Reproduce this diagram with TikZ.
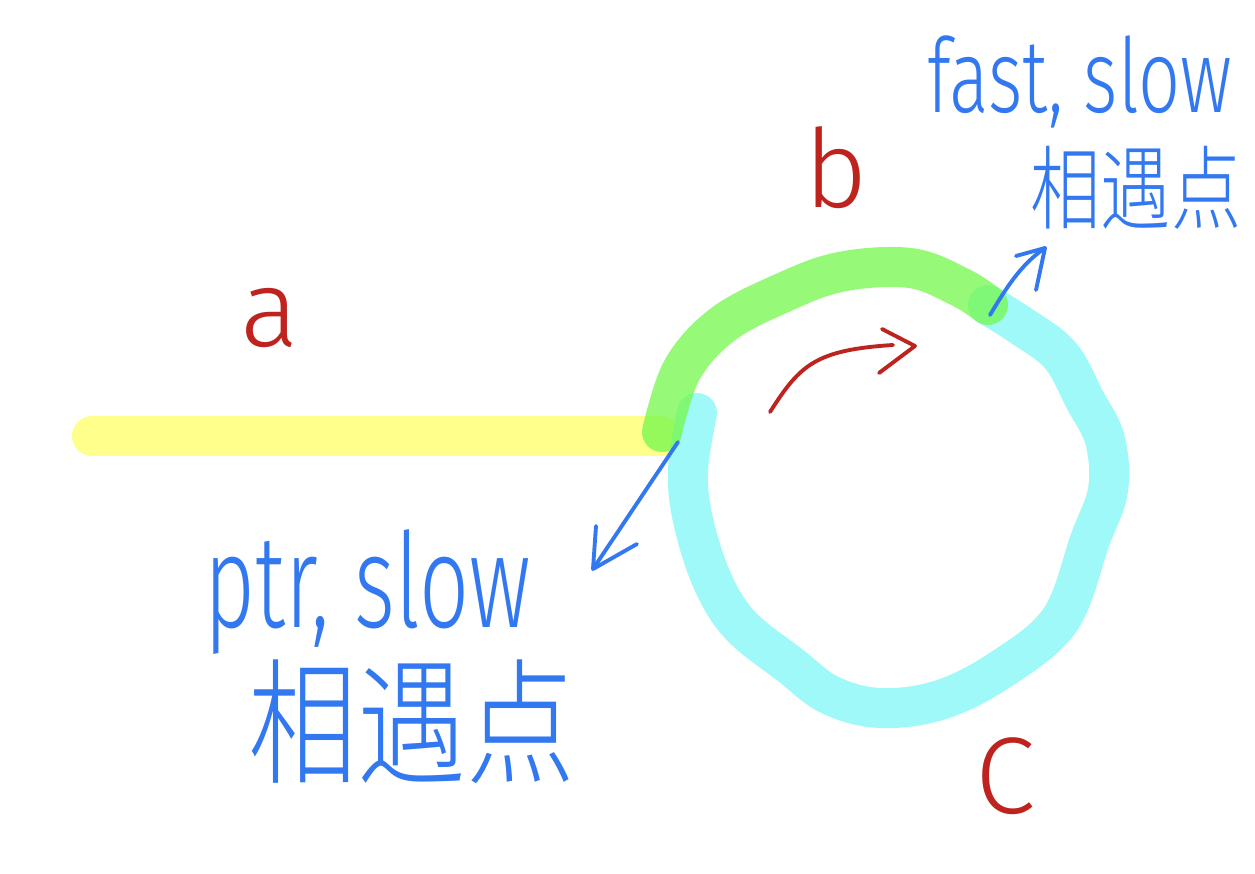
\documentclass[tikz,border=0pt]{standalone}
\usepackage{fontspec}
\setmainfont{Fira Sans Light}
\IfFontExistsTF{Noto Sans CJK SC Light}{\newfontfamily\cjk{Noto Sans CJK SC Light}}{\newfontfamily\cjk{Noto Sans CJK SC}}
\definecolor{hlyellow}{RGB}{255,255,102}
\definecolor{hlgreen}{RGB}{115,248,75}
\definecolor{hlcyan}{RGB}{128,248,248}
\definecolor{penred}{RGB}{190,35,30}
\definecolor{penblue}{RGB}{50,120,240}
\begin{document}
\begin{tikzpicture}[x=0.02cm,y=-0.02cm,
  marker/.style={line width=0.8cm,line cap=round,line join=round,opacity=0.75},
  redpen/.style={draw=penred,line width=2.2pt,line cap=round,line join=round},
  bluepen/.style={draw=penblue,line width=2.2pt,line cap=round,line join=round},
  redlbl/.style={text=penred,font=\fontsize{62}{62}\selectfont,inner sep=0pt},
  bluelbl/.style={text=penblue,inner sep=0pt}]
\useasboundingbox (0,0) rectangle (1255,874);
\fill[white] (0,0) rectangle (1255,874);
% segments
\draw[marker,draw=hlyellow] (92,436) -- (662,436);
\draw[marker,draw=hlcyan] plot[smooth,tension=0.6] coordinates {(697,413) (688,470) (693,520) (712,580) (740,625) (790,665) (830,695) (880,708) (940,700) (1000,670) (1060,620) (1090,540) (1108,490) (1105,440) (1085,400) (1060,355) (1020,325) (988,305)};
\draw[marker,draw=hlgreen] plot[smooth,tension=0.6] coordinates {(662,432) (682,370) (722,325) (780,294) (840,272) (910,268) (960,287) (988,305)};
% meeting points
\coordinate (m1) at (678,442);
\coordinate (m2) at (990,315);
\coordinate (t1) at (593,569);
\coordinate (t2) at (1045,248);
% labels
\node[redlbl] (la) at (270,318) {a};
\node[redlbl] (lb) at (836,168) {b};
\node[redlbl] (lc) at (1005,776) {C};
\node[bluelbl,font=\fontsize{42}{42}\selectfont,yscale=1.4,transform shape] (fs) at (1080,82) {fast, slow};
\node[bluelbl,font=\cjk\fontsize{40}{40}\selectfont,yscale=1.3,transform shape] (mp1) at (1136,188) {相遇点};
\node[bluelbl,font=\fontsize{50}{50}\selectfont,yscale=1.5,transform shape] (ps) at (368,592) {ptr, slow};
\node[bluelbl,font=\cjk\fontsize{62}{62}\selectfont,yscale=1.25,transform shape] (mp2) at (412,722) {相遇点};
% direction arrow
\coordinate (r0) at (770,412);
\coordinate (r1) at (893,345);
\coordinate (rt) at (915,346);
\draw[redpen] (r0) .. controls (800,365) and (815,350) .. (r1);
\draw[redpen] (882,329) -- (rt) -- (879,373);
% pointer arrows
\draw[bluepen] (m2) .. controls (1005,290) and (1020,265) .. (t2);
\draw[bluepen] (1016,256) -- (t2) -- (1036,290);
\draw[bluepen] (m1) -- (t1);
\draw[bluepen] (596,526) -- (t1) -- (637,544);
\end{tikzpicture}
\end{document}
